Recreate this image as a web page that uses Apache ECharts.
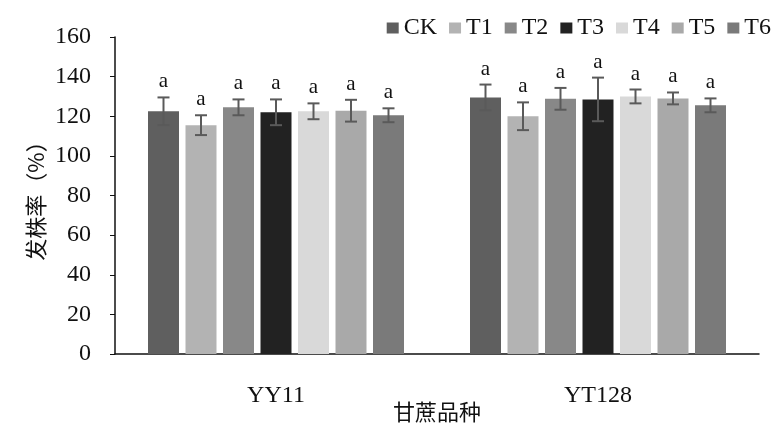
<!DOCTYPE html>
<html><head><meta charset="utf-8">
<script src="https://cdn.jsdelivr.net/npm/echarts@6/dist/echarts.min.js"></script>
<style>html,body{margin:0;padding:0;background:#fff}#c{width:776px;height:425px}</style>
</head><body><div id="c"></div>
<script>
const categories = ['YY11', 'YT128'];
const seriesNames = ['CK', 'T1', 'T2', 'T3', 'T4', 'T5', 'T6'];
const means = [
  [122.5, 129.5],
  [115.5, 120.0],
  [124.5, 128.8],
  [122.0, 128.5],
  [122.5, 130.0],
  [122.8, 129.0],
  [120.5, 125.5]
];
const errors = [
  [7.0, 6.5],
  [5.0, 7.0],
  [4.0, 5.5],
  [6.5, 11.0],
  [4.0, 3.5],
  [5.5, 3.0],
  [3.5, 3.5]
];
const letters = [
  ['a', 'a'], ['a', 'a'], ['a', 'a'], ['a', 'a'], ['a', 'a'], ['a', 'a'], ['a', 'a']
];
const yTicks = [0, 20, 40, 60, 80, 100, 120, 140, 160];

const colors = ['#5f5f5f', '#b3b3b3', '#888888', '#222222', '#d9d9d9', '#a9a9a9', '#7a7a7a'];
const FONT = '"Liberation Serif", "Times New Roman", serif';
const CJK = '"Noto Sans CJK SC", sans-serif';
const BAR_W = 31, BAR_GAP = 6.5;

const chart = echarts.init(document.getElementById('c'));

const series = seriesNames.map((n, i) => ({
  name: n, type: 'bar', data: means[i], barWidth: BAR_W, barGap: (BAR_GAP / BAR_W * 100) + '%',
  itemStyle: { color: colors[i] }, z: 2
}));

const errData = [];
seriesNames.forEach((n, si) => {
  categories.forEach((c, ci) => {
    errData.push([ci, means[si][ci], errors[si][ci], si, letters[si][ci]]);
  });
});

series.push({
  type: 'custom', name: 'err', z: 5, silent: true,
  data: errData,
  renderItem: function (params, api) {
    const ci = api.value(0), m = api.value(1), e = api.value(2), si = api.value(3);
    const center = api.coord([ci, m])[0];
    const x = center + (si - 3) * (BAR_W + BAR_GAP);
    const yTop = api.coord([ci, m + e])[1];
    const yBot = api.coord([ci, m - e])[1];
    const cap = 6;
    const st = { stroke: '#5a5a5a', lineWidth: 2 };
    return {
      type: 'group', children: [
        { type: 'line', shape: { x1: x, y1: yTop, x2: x, y2: yBot }, style: st },
        { type: 'line', shape: { x1: x - cap, y1: yTop, x2: x + cap, y2: yTop }, style: st },
        { type: 'line', shape: { x1: x - cap, y1: yBot, x2: x + cap, y2: yBot }, style: st },
        { type: 'text', x: x, y: yTop - 5, style: { text: errData[params.dataIndex][4], fontFamily: FONT, fontSize: 21, fill: '#111', align: 'center', verticalAlign: 'bottom' } }
      ]
    };
  }
});

chart.setOption({
  animation: false,
  backgroundColor: '#fff',
  grid: { left: 115, right: 17, top: 37, bottom: 71, outerBoundsMode: 'none', containLabel: false },
  legend: {
    data: seriesNames, top: 11, right: 0, itemWidth: 12, itemHeight: 11, itemGap: 12, icon: 'rect',
    textStyle: { fontFamily: FONT, fontSize: 24, color: '#111' }
  },
  xAxis: {
    type: 'category', data: categories,
    name: '甘蔗品种', nameLocation: 'middle', nameGap: 47, nameMoveOverlap: false,
    nameTextStyle: { fontFamily: CJK, fontSize: 22, color: '#111' },
    axisLine: { lineStyle: { color: '#111', width: 1.5 } },
    axisTick: { show: false },
    axisLabel: { fontFamily: FONT, fontSize: 24, color: '#111', margin: 30 }
  },
  yAxis: {
    type: 'value', min: 0, max: 160, interval: 20,
    name: '发株率（%）', nameLocation: 'middle', nameGap: 68, nameRotate: 90, nameMoveOverlap: false,
    nameTextStyle: { fontFamily: CJK, fontSize: 22, color: '#111' },
    axisLine: { show: true, lineStyle: { color: '#111', width: 1.5 } },
    axisTick: { show: true, length: 5, lineStyle: { color: '#111' } },
    splitLine: { show: false },
    axisLabel: { fontFamily: FONT, fontSize: 24, color: '#111', margin: 24,
      formatter: v => yTicks.includes(v) ? String(v) : '' }
  },
  series: series
});
</script></body></html>
